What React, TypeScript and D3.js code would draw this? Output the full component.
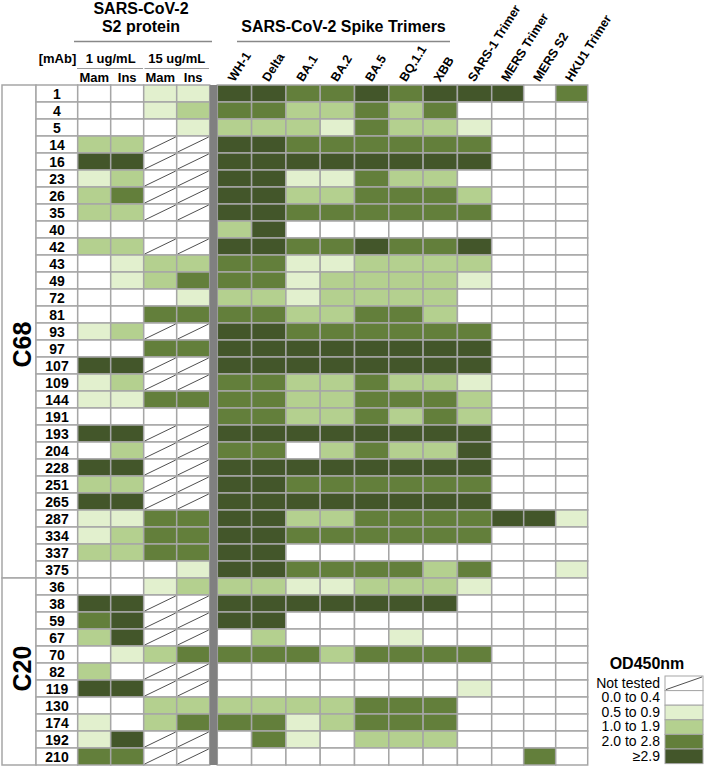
import React from "react";
import * as d3 from "d3";

const c68Labels = ["1","4","5","14","16","23","26","35","40","42","43","49","72","81","93","97","107","109","144","191","193","204","228","251","265","287","334","337","375"];
const c20Labels = ["36","38","59","67","70","82","119","130","174","192","210"];

// codes: N not tested, W 0.0-0.4, L 0.5-0.9, M 1.0-1.9, G 2.0-2.8, D >=2.9
// columns: Mam1 Ins1 Mam15 Ins15 | WH-1 Delta BA.1 BA.2 BA.5 BQ.1.1 XBB SARS-1 | MERS-T MERS-S2 HKU1
const c68Values = [
  "WWLL DDGGDGDD DWG",
  "WWLM GGMMGMGW WWW",
  "WWWL MMMLGMML WWW",
  "MMNN DDGGGGGG WWW",
  "DDNN DDDDDDDD WWW",
  "LMNN DDLLGMMW WWW",
  "MGNN DDMMGGGM WWW",
  "MMNN DDGGGGGG WWW",
  "WWWW MDWWWWWW WWW",
  "MMNN DDGGDGGD WWW",
  "WLMM GGLLMMMM WWW",
  "WLMG GGLMMMML WWW",
  "WWWL MMLMMMMW WWW",
  "WWGG GGMMGGMW WWW",
  "LMNN DDGGGGGG WWW",
  "WWGG DDDDDDDD WWW",
  "DDNN DDDDDDDD WWW",
  "LMNN GGMMGMML WWW",
  "LLGG GGMMGGGM WWW",
  "WWWW GGMMGMGM WWW",
  "DDNN DDDDDDDD WWW",
  "WMNN GGWMGMMD WWW",
  "DDNN DDDDDDDD WWW",
  "MMNN DDGGGGGG WWW",
  "DDNN DDDDDDDD WWW",
  "LLGG DDMMGGGG DDL",
  "LMGG DDGGGGGG WWW",
  "MMGG DDWWWWWW WWW",
  "WWWL DDGGGGMG WWL",
];
const c20Values = [
  "WWLM MMLLMMML WWW",
  "DDNN DDDDDDDW WWW",
  "GDNN DDWWWWWW WWW",
  "MDNN WMWWWLWW WWW",
  "WLMG GGGMGGGG WWW",
  "MWNN WWWWWWWW WWW",
  "DDNN WWWWWWWL WWW",
  "WWMM MMMMGGGW WWW",
  "LWMG GGLMGGGW WWW",
  "LDNN WGLWMMMW WWW",
  "GGNN WWWWWWWW WGW",
];

const s2Columns = ["Mam", "Ins", "Mam ", "Ins "];
const spikeColumns = ["WH-1","Delta","BA.1","BA.2","BA.5","BQ.1.1","XBB","SARS-1 Trimer"];
const otherColumns = ["MERS Trimer","MERS S2","HKU1 Trimer"];

const levelCodes = ["N","W","L","M","G","D"];
const levelLabels = ["Not tested","0.0 to 0.4","0.5 to 0.9","1.0 to 1.9","2.0 to 2.8","\u22652.9"];
const levelColors = ["#ffffff","#ffffff","#e2f0ce","#b4d08f","#637f3b","#43562a"];

const groups = [
  { name: "C68", labels: c68Labels, values: c68Values, dy: 13 },
  { name: "C20", labels: c20Labels, values: c20Values, dy: -3 },
];

const FONT = "'Liberation Sans', Arial, sans-serif";
const GRID = "#a6a6a6";

export default function App() {
  const rowIds = groups.flatMap((g) => g.labels.map((l) => g.name + ":" + l));
  const y = d3.scaleBand<string>().domain(rowIds).range([85, 765]);
  const xS2 = d3.scaleBand<string>().domain(s2Columns).range([77.7, 209.7]);
  const xSpike = d3.scaleBand<string>().domain(spikeColumns).range([217.3, 491.7]);
  const xOther = d3.scaleBand<string>().domain(otherColumns).range([491.7, 587.7]);
  const color = d3.scaleOrdinal<string, string>().domain(levelCodes).range(levelColors);

  const colDefs = [
    ...s2Columns.map((c) => ({ x: xS2(c)!, w: xS2.bandwidth() })),
    ...spikeColumns.map((c) => ({ x: xSpike(c)!, w: xSpike.bandwidth() })),
    ...otherColumns.map((c) => ({ x: xOther(c)!, w: xOther.bandwidth() })),
  ];

  const cells: JSX.Element[] = [];
  groups.forEach((g) => {
    g.labels.forEach((lab, i) => {
      const id = g.name + ":" + lab;
      const codes = g.values[i].replace(/ /g, "").split("");
      const yy = y(id)!;
      const h = y.bandwidth();
      cells.push(
        <g key={"lab" + id}>
          <rect x={36} y={yy} width={41.7} height={h} fill="#fff" stroke={GRID} strokeWidth={1.5} />
          <text x={57} y={yy + h / 2 + 5} textAnchor="middle" fontSize={14} fontWeight="bold">{lab}</text>
        </g>
      );
      codes.forEach((code, j) => {
        const c = colDefs[j];
        cells.push(
          <g key={id + "-" + j}>
            <rect x={c.x} y={yy} width={c.w} height={h} fill={color(code)} stroke={GRID} strokeWidth={1.5} />
            {code === "N" && (
              <line x1={c.x + 1} y1={yy + h - 1} x2={c.x + c.w - 1} y2={yy + 1} stroke="#222" strokeWidth={0.8} />
            )}
          </g>
        );
      });
    });
  });

  const groupEls = groups.map((g) => {
    const top = y(g.name + ":" + g.labels[0])!;
    const bottom = y(g.name + ":" + g.labels[g.labels.length - 1])! + y.bandwidth();
    const cy = (top + bottom) / 2 + g.dy;
    return (
      <g key={g.name}>
        <rect x={2} y={top} width={34} height={bottom - top} fill="#fff" stroke={GRID} strokeWidth={1.5} />
        <text transform={`translate(${31},${cy}) rotate(-90)`} textAnchor="middle" fontSize={25} fontWeight="bold">{g.name}</text>
      </g>
    );
  });

  const rotLabels = [
    ...spikeColumns.map((c) => ({ c, x: xSpike(c)! + xSpike.bandwidth() / 2 })),
    ...otherColumns.map((c) => ({ c, x: xOther(c)! + xOther.bandwidth() / 2 })),
  ];

  const legendTop = 676;
  const legendStep = 14.6;

  return (
    <svg width={706} height={767} style={{ position: "absolute", left: 0, top: 0, fontFamily: FONT }}>
      <rect width={706} height={767} fill="#fff" />
      {/* headers */}
      <text x={141} y={14} textAnchor="middle" fontSize={16} fontWeight="bold">SARS-CoV-2</text>
      <text x={141} y={32} textAnchor="middle" fontSize={16} fontWeight="bold">S2 protein</text>
      <line x1={74} x2={212} y1={41.5} y2={41.5} stroke="#888" strokeWidth={1.5} />
      <text x={343.5} y={32} textAnchor="middle" fontSize={16} fontWeight="bold">SARS-CoV-2 Spike Trimers</text>
      <line x1={237} x2={450} y1={41.5} y2={41.5} stroke="#888" strokeWidth={1.5} />
      <text x={57.5} y={63} textAnchor="middle" fontSize={13} fontWeight="bold">[mAb]</text>
      <text x={(xS2("Mam")! + xS2("Ins")! + xS2.bandwidth()) / 2} y={63} textAnchor="middle" fontSize={13} fontWeight="bold">1 ug/mL</text>
      <text x={(xS2("Mam ")! + xS2("Ins ")! + xS2.bandwidth()) / 2} y={63} textAnchor="middle" fontSize={13} fontWeight="bold">15 ug/mL</text>
      <line x1={77} x2={143} y1={68.5} y2={68.5} stroke="#999" strokeWidth={1} />
      <line x1={144.5} x2={209} y1={68.5} y2={68.5} stroke="#999" strokeWidth={1} />
      {s2Columns.map((c) => (
        <text key={"h" + c} x={xS2(c)! + xS2.bandwidth() / 2} y={81.5} textAnchor="middle" fontSize={13} fontWeight="bold">{c.trim()}</text>
      ))}
      {rotLabels.map((d) => (
        <text key={"r" + d.c} transform={`translate(${d.x},${82.5}) rotate(-58)`} fontSize={12.5} fontWeight="bold">{d.c}</text>
      ))}
      {groupEls}
      {cells}
      <rect x={209.7} y={85} width={7.6} height={680} fill="#808080" />
      {/* legend */}
      <text x={647} y={669} textAnchor="middle" fontSize={16} fontWeight="bold">OD450nm</text>
      {levelCodes.map((code, i) => {
        const ty = legendTop + i * legendStep;
        return (
          <g key={"leg" + code}>
            <rect x={665} y={ty} width={38} height={legendStep} fill={color(code)} stroke={GRID} strokeWidth={1} />
            {code === "N" && <line x1={666} y1={ty + legendStep - 1} x2={702} y2={ty + 1} stroke="#222" strokeWidth={0.8} />}
            <text x={660} y={ty + 11.5} textAnchor="end" fontSize={14}>{levelLabels[i]}</text>
          </g>
        );
      })}
    </svg>
  );
}
